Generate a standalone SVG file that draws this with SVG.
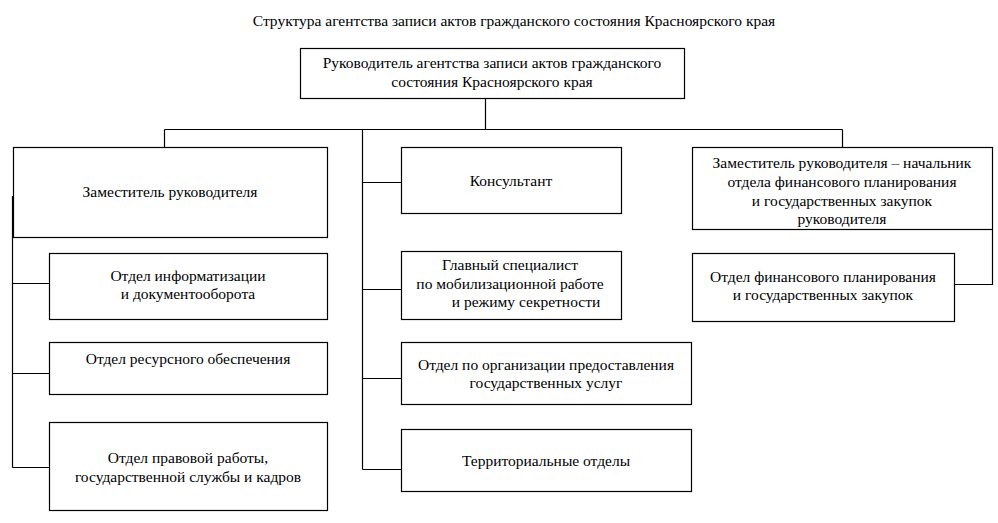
<svg xmlns="http://www.w3.org/2000/svg" width="998" height="523" viewBox="0 0 998 523">
<style>
.box{fill:#fff;stroke:#000;stroke-width:1.2}
.ln{fill:none;stroke:#000;stroke-width:1.2}
.t{font-family:'Liberation Serif',serif;font-size:15.5px;text-anchor:middle;fill:#000}
</style>
<rect width="998" height="523" fill="#fff"/>
<text id="title" class="t" x="514" y="26">Структура агентства записи актов гражданского состояния Красноярского края</text>
<g id="connectors">
<path class="ln" d="M485.5 98V129.5M164.5 129.5H842.5M164.5 129.5V147M842.5 129.5V147"/>
<path class="ln" d="M362.5 129.5V469.5M362.5 182.5H401M362.5 289.5H401M362.5 378.5H401M362.5 469.5H401"/>
<path class="ln" d="M12.5 196V467.5M12.5 283.5H49M12.5 373.5H49M12.5 467.5H49"/>
<path class="ln" d="M992.5 229V284.5H955"/>
</g>
<g id="head"><rect class="box" x="300.5" y="48.5" width="384" height="50"/>
<text class="t" x="492" y="68">Руководитель агентства записи актов гражданского</text>
<text class="t" x="492" y="87">состояния Красноярского края</text></g>
<g id="deputy"><rect class="box" x="13.5" y="147.5" width="314" height="90"/>
<text class="t" x="170" y="197">Заместитель руководителя</text></g>
<g id="it"><rect class="box" x="49.5" y="253.5" width="278" height="66"/>
<text class="t" x="188" y="281">Отдел информатизации</text>
<text class="t" x="188" y="299">и документооборота</text></g>
<g id="resource"><rect class="box" x="49.5" y="342.5" width="278" height="52"/>
<text class="t" x="188" y="364">Отдел ресурсного обеспечения</text></g>
<g id="legal"><rect class="box" x="49.5" y="422.5" width="278" height="88"/>
<text class="t" x="188" y="463">Отдел правовой работы,</text>
<text class="t" x="188" y="482">государственной службы и кадров</text></g>
<g id="consultant"><rect class="box" x="401.5" y="147.5" width="220" height="66"/>
<text class="t" x="511" y="186">Консультант</text></g>
<g id="chief"><rect class="box" x="401.5" y="251.5" width="220" height="68"/>
<text class="t" x="510" y="270">Главный специалист</text>
<text class="t" x="510" y="289">по мобилизационной работе</text>
<text class="t" x="526" y="307">и режиму секретности</text></g>
<g id="services"><rect class="box" x="401.5" y="342.5" width="290" height="62"/>
<text class="t" x="546" y="370">Отдел по организации предоставления</text>
<text class="t" x="546" y="388">государственных услуг</text></g>
<g id="territorial"><rect class="box" x="401.5" y="429.5" width="290" height="62"/>
<text class="t" x="546" y="466">Территориальные отделы</text></g>
<g id="deputy-fin"><rect class="box" x="692.5" y="147.5" width="300" height="82"/>
<text class="t" x="842" y="168">Заместитель руководителя – начальник</text>
<text class="t" x="842" y="187">отдела финансового планирования</text>
<text class="t" x="842" y="206">и государственных закупок</text>
<text class="t" x="842" y="224">руководителя</text></g>
<g id="fin"><rect class="box" x="692.5" y="253.5" width="262" height="68"/>
<text class="t" x="823" y="282">Отдел финансового планирования</text>
<text class="t" x="823" y="300">и государственных закупок</text></g>
</svg>
